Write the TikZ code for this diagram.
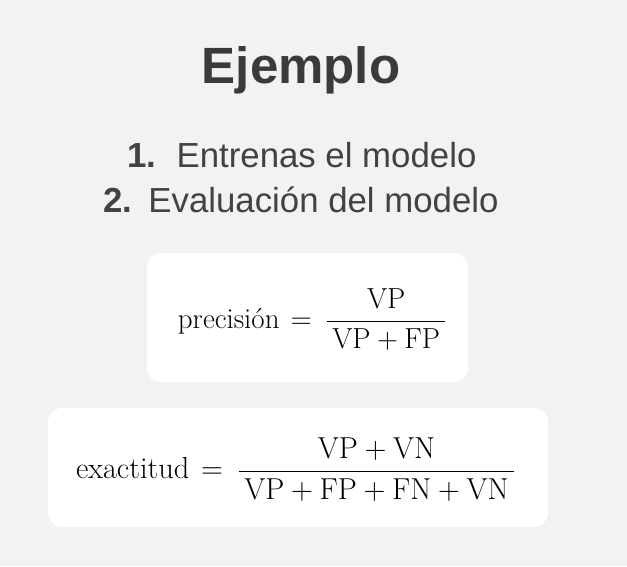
\RequirePackage{fix-cm}
\documentclass[tikz,border=0pt]{standalone}
\usepackage[no-math]{fontspec}
\setmainfont{Liberation Sans}
\newfontfamily\lmserif{Latin Modern Roman}
\usepackage{amsmath}
\usetikzlibrary{positioning}
\definecolor{bgcol}{RGB}{242,242,243}
\definecolor{titlecol}{RGB}{58,58,58}
\definecolor{itemcol}{RGB}{66,66,66}
\newcommand{\eqgap}{\mkern2mu=\mkern4mu}
\newcommand{\pad}[1]{\mkern3mu#1\mkern3mu}

\begin{document}
\begin{tikzpicture}[x=1pt,y=-1pt,
  card/.style={fill=white, rounded corners=14pt, inner sep=0pt},
  item/.style={anchor=base, text=itemcol, font=\fontsize{34.8}{42}\selectfont},
  formula/.style={inner sep=0pt, font=\fontsize{29}{35}\selectfont}]
\fill[bgcol] (0,0) rectangle (627,566);
\node[anchor=base, text=titlecol, font=\bfseries\fontsize{51}{60}\selectfont] (title) at (301,83) {Ejemplo};
\node[item] (step1) at (302,167) {\textbf{1.}\hspace{20pt}Entrenas el modelo};
\node[item] (step2) at (301,212) {\textbf{2.}\hspace{16pt}Evaluación del modelo};
\node[card, minimum width=321pt, minimum height=129pt] (precbox) at (307.5,317.5) {};
\node[formula] (prec) at (312,319.7) {$\displaystyle \text{\lmserif precisión} \eqgap \frac{\mathrm{VP}}{\pad{\mathrm{VP}+\mathrm{FP}}}$};
\node[card, minimum width=500pt, minimum height=119pt] (exacbox) at (298,467.5) {};
\node[formula, font=\fontsize{30.3}{36}\selectfont] (exac) at (295.5,469.6) {$\displaystyle \text{\lmserif exactitud} \eqgap \frac{\mathrm{VP}+\mathrm{VN}}{\pad{\mathrm{VP}+\mathrm{FP}+\mathrm{FN}+\mathrm{VN}}}$};
\end{tikzpicture}
\end{document}
